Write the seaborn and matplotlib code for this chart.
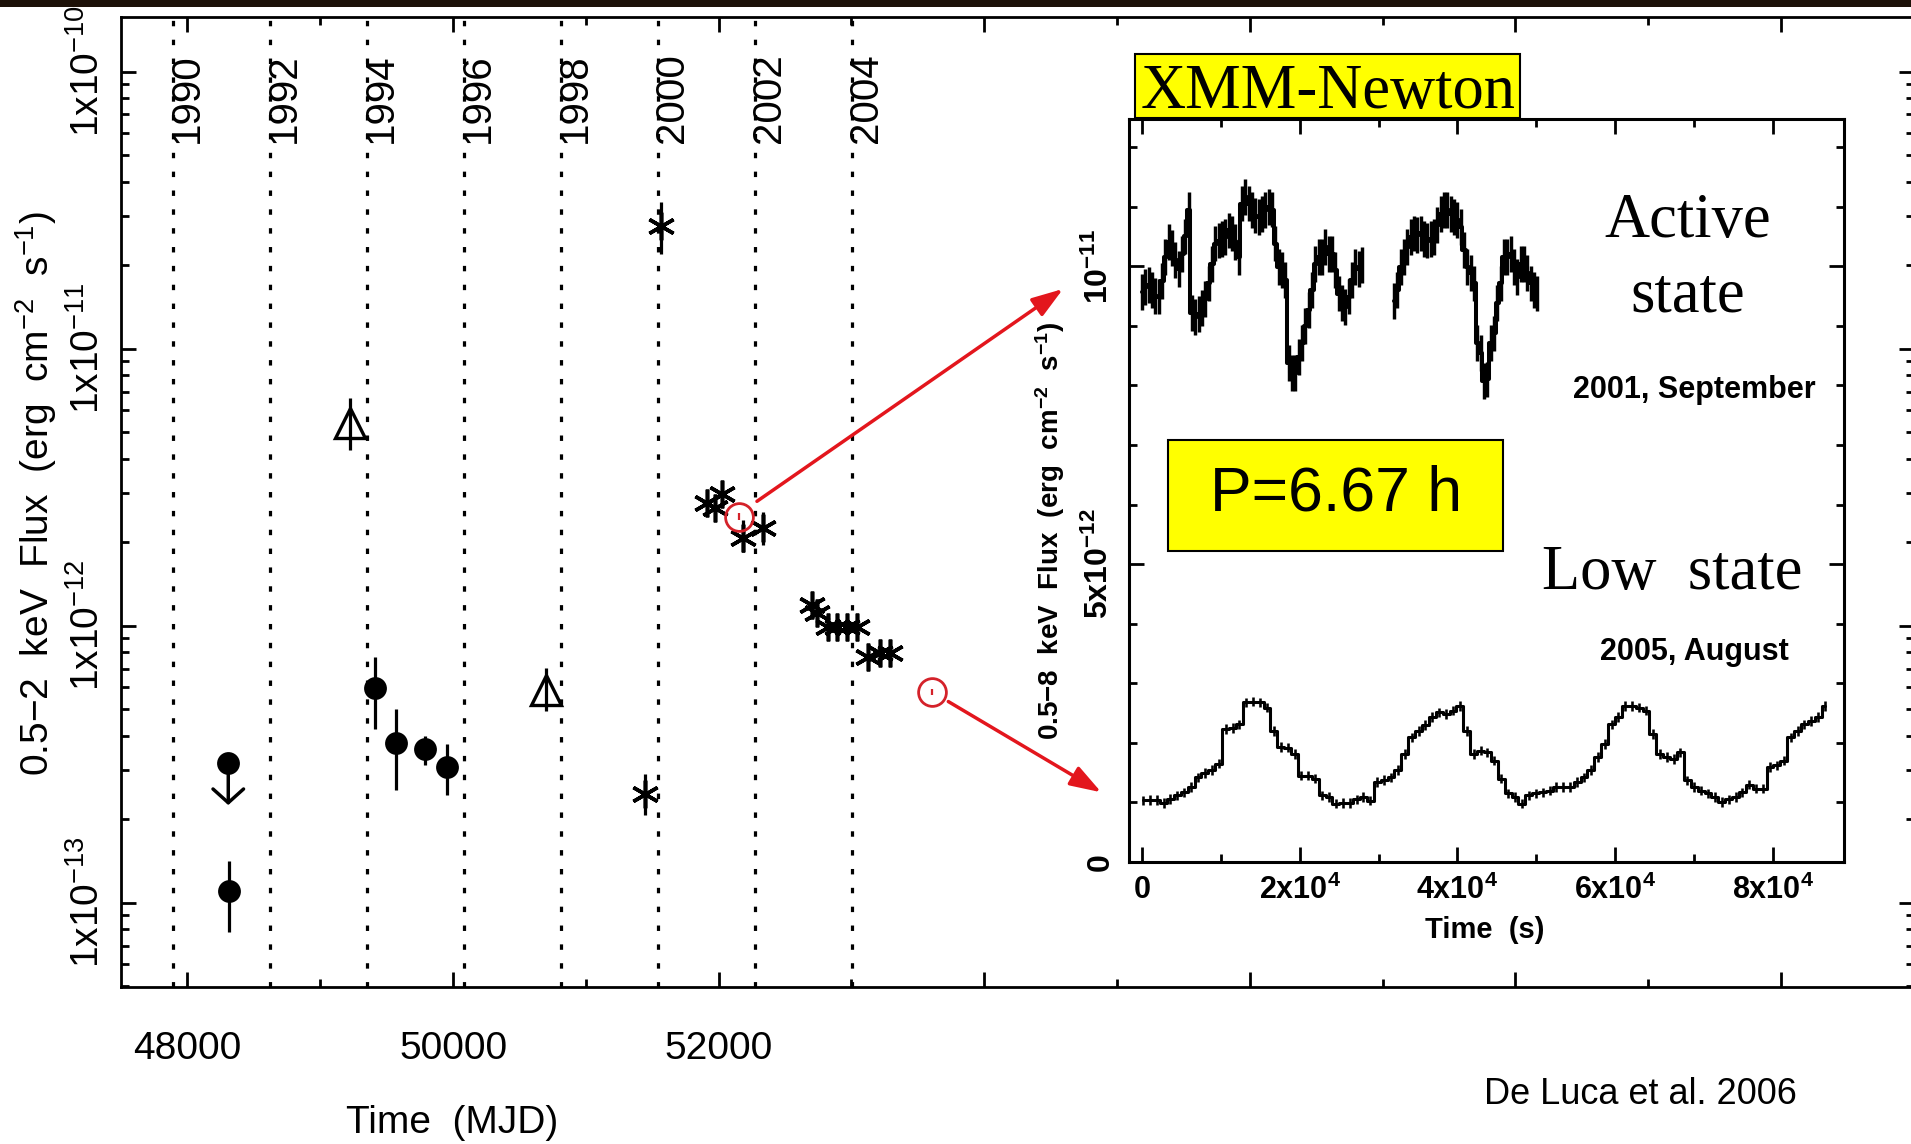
import numpy as np
import matplotlib
matplotlib.use("Agg")
import matplotlib.pyplot as plt
import matplotlib.ticker as mticker
import matplotlib.transforms as mtransforms
from matplotlib.patches import Rectangle
import seaborn as sns

sns.set_theme(style="ticks")
plt.rcParams["font.family"] = ["Liberation Sans", "DejaVu Sans"]
plt.rcParams["mathtext.default"] = "regular"
plt.rcParams["axes.edgecolor"] = "black"
plt.rcParams["text.color"] = "black"
plt.rcParams["xtick.color"] = "black"
plt.rcParams["ytick.color"] = "black"

# ---------------- data: long-term light curve ----------------
year_labels = ["1990", "1992", "1994", "1996", "1998", "2000", "2002", "2004"]
year_mjd = [47892, 48622, 49353, 50083, 50814, 51544, 52275, 53005]

circ_mjd = [48315, 49412, 49570, 49788, 49952]
circ_flux = [1.10e-13, 5.94e-13, 3.76e-13, 3.58e-13, 3.08e-13]
circ_lo = [7.85e-14, 4.23e-13, 2.54e-13, 3.14e-13, 2.45e-13]
circ_hi = [1.41e-13, 7.69e-13, 4.99e-13, 4.00e-13, 3.73e-13]

ul_mjd = [48307]
ul_flux = [3.19e-13]
ul_tip = [2.25e-13]

tri_mjd = [49227, 50700]
tri_flux = [5.38e-12, 5.86e-13]
tri_lo = [4.31e-12, 4.90e-13]
tri_hi = [6.62e-12, 7.03e-13]

star_mjd = [51446, 51567, 51910, 51972, 52023, 52185, 52336, 52700, 52738,
            52825, 52889, 52964, 53039, 53127, 53215, 53290]
star_flux = [2.46e-13, 2.78e-11, 2.77e-12, 2.65e-12, 2.99e-12, 2.07e-12, 2.25e-12,
             1.19e-12, 1.11e-12, 9.9e-13, 9.9e-13, 9.9e-13, 9.9e-13, 7.73e-13,
             7.94e-13, 7.94e-13]
star_lo = [2.07e-13, 2.19e-11, 2.70e-12, 2.58e-12, 2.92e-12, 1.85e-12, 1.95e-12,
           1.16e-12, 1.08e-12, 9.7e-13, 9.7e-13, 9.7e-13, 9.7e-13, 7.55e-13,
           7.76e-13, 7.76e-13]
star_hi = [2.92e-13, 3.37e-11, 2.84e-12, 2.72e-12, 3.06e-12, 2.41e-12, 2.58e-12,
           1.22e-12, 1.14e-12, 1.01e-12, 1.01e-12, 1.01e-12, 1.01e-12, 7.92e-13,
           8.12e-13, 8.12e-13]

red_mjd = [52155, 53608]
red_flux = [2.47e-12, 5.77e-13]
red_lo = [2.40e-12, 5.62e-13]
red_hi = [2.54e-12, 5.92e-13]

# red arrows (start -> tip) in (MJD, flux)
arrow_start = [(52288, 2.81e-12), (53729, 5.32e-13)]
arrow_tip = [(54593, 1.642e-11), (54881, 2.502e-13)]

xtick_major = [48000, 50000, 52000, 54000, 56000, 58000, 60000]
xtick_labels = ["48000", "50000", "52000", "", "", "", ""]
ytick_vals = [1e-13, 1e-12, 1e-11, 1e-10]
ytick_labels = ["1x10$^{-13}$", "1x10$^{-12}$", "1x10$^{-11}$", "1x10$^{-10}$"]

# ---------------- data: XMM light curves (units of 1e-12) ----------------
active_a = [9.57, 9.65, 9.68, 9.60, 9.50, 9.49, 9.75, 10.15, 10.40, 10.30,
            10.10, 9.95, 10.20, 10.50, 10.94, 9.21, 9.15, 9.20, 9.30, 9.45,
            9.71, 10.04, 10.38, 10.43, 10.45, 10.49, 10.60, 10.55, 10.40, 10.16,
            11.05, 11.16, 11.05, 10.94, 10.85, 10.82, 10.88, 10.94, 10.99, 10.95,
            10.38, 9.99, 9.93, 9.77, 8.37, 8.21, 8.21, 8.48, 8.71, 8.99,
            9.26, 9.60, 10.04, 10.16, 10.16, 10.32, 10.20, 10.21, 9.93, 9.54,
            9.38, 9.32, 9.49, 9.77, 9.99, 9.95, 10.02]
active_b = [9.42, 9.60, 9.99, 10.16, 10.32, 10.49, 10.55, 10.52, 10.55, 10.46,
            10.43, 10.46, 10.49, 10.69, 10.88, 10.94, 10.94, 10.88, 10.82, 10.77,
            10.66, 10.27, 9.99, 9.88, 9.71, 8.71, 8.54, 8.07, 8.10, 8.71,
            8.87, 9.38, 9.71, 10.16, 10.16, 10.21, 9.99, 9.82, 10.04, 10.04,
            9.88, 9.71, 9.60, 9.54]
low_state = [1.035, 1.04, 1.04, 0.99, 1.06, 1.12, 1.17, 1.26, 1.42, 1.49,
             1.54, 1.65, 2.23, 2.25, 2.31, 2.68, 2.69, 2.68, 2.59, 2.20,
             1.93, 1.92, 1.81, 1.45, 1.45, 1.40, 1.12, 1.09, 0.98, 0.99,
             0.99, 1.05, 1.09, 1.03, 1.34, 1.38, 1.42, 1.54, 1.81, 2.09,
             2.20, 2.30, 2.43, 2.51, 2.48, 2.54, 2.62, 2.20, 1.81, 1.87,
             1.84, 1.70, 1.40, 1.15, 1.09, 0.98, 1.12, 1.15, 1.17, 1.20,
             1.26, 1.26, 1.26, 1.34, 1.42, 1.54, 1.76, 1.98, 2.31, 2.43,
             2.62, 2.62, 2.59, 2.54, 2.15, 1.81, 1.76, 1.73, 1.84, 1.37,
             1.26, 1.20, 1.15, 1.09, 1.01, 1.05, 1.09, 1.17, 1.30, 1.23,
             1.23, 1.59, 1.62, 1.70, 2.09, 2.20, 2.31, 2.37, 2.43, 2.62]
active_bin, active_b_start = 423.0, 31940.0
low_bin, low_start = 874.0, 117.0
active_err, low_err = 0.30, 0.08

inset_xticks = [0, 20000, 40000, 60000, 80000]
inset_xlabels = ["0", "2x10$^4$", "4x10$^4$", "6x10$^4$", "8x10$^4$"]
inset_yticks = [0, 5, 10]
inset_ylabels = ["0", "5x10$^{-12}$", "10$^{-11}$"]

# ---------------- figure ----------------
W, H = 1911, 1144
fig = plt.figure(figsize=(W / 100, H / 100), dpi=100)
fig.patch.set_facecolor("white")


def fx(x):
    return x / W


def fy(y):
    return 1 - y / H


L, R, T, B = 121.1, 1913.9, 17.3, 987.0
ax = fig.add_axes([fx(L), fy(B), (R - L) / W, (B - T) / H])
ax.set_yscale("log")
ax.set_xlim(47500, 61000)
ax.set_ylim(4.96e-14, 1.57e-10)
for s in ax.spines.values():
    s.set_linewidth(2.0)
    s.set_color("black")

ax.set_xticks(xtick_major, labels=xtick_labels)
ax.xaxis.set_minor_locator(mticker.MultipleLocator(1000))
ax.set_yticks(ytick_vals, labels=ytick_labels)
ax.yaxis.set_minor_locator(mticker.LogLocator(base=10, subs=np.arange(2, 10), numticks=30))
ax.yaxis.set_minor_formatter(mticker.NullFormatter())
ax.tick_params(which="both", direction="in", top=True, right=True, width=2.0, color="black")
ax.tick_params(which="major", length=11)
ax.tick_params(which="minor", length=6)
ax.tick_params(axis="x", labelsize=28, pad=32)
ax.tick_params(axis="y", labelsize=28, pad=10, labelrotation=90)
for lab in ax.get_yticklabels():
    lab.set_va("center")
ax.grid(False)

# year lines & labels
blend = mtransforms.blended_transform_factory(ax.transData, ax.transAxes)
ytxt = mtransforms.offset_copy(blend, fig=fig, x=14 * 0.72, y=0, units="points")
for yl, m in zip(year_labels, year_mjd):
    ax.axvline(m, color="black", lw=2.3, ls=(0, (1.7, 4.2)), zorder=1)
    ax.text(m, 0.9163, yl, transform=ytxt, rotation=90, ha="center", va="center",
            fontsize=29, zorder=3)

# data points
err_kw = dict(fmt="none", ecolor="black", elinewidth=2.3, capsize=0, zorder=3)
ax.errorbar(circ_mjd, circ_flux,
            yerr=[np.subtract(circ_flux, circ_lo), np.subtract(circ_hi, circ_flux)], **err_kw)
sns.scatterplot(x=circ_mjd + ul_mjd, y=circ_flux + ul_flux, ax=ax, color="black",
                s=270, marker="o", edgecolor="black", linewidth=0, zorder=4, legend=False)
for m, f, tip in zip(ul_mjd, ul_flux, ul_tip):
    ax.annotate("", xy=(m, tip), xytext=(m, f),
                arrowprops=dict(arrowstyle="->,head_length=0.45,head_width=0.5",
                                lw=2.5, color="black", mutation_scale=22,
                                shrinkA=0, shrinkB=0), zorder=3)

ax.errorbar(tri_mjd, tri_flux,
            yerr=[np.subtract(tri_flux, tri_lo), np.subtract(tri_hi, tri_flux)],
            fmt="^", mfc="none", mec="black", ms=21, mew=2.4,
            ecolor="black", elinewidth=2.3, capsize=0, zorder=3)

ax.errorbar(star_mjd, star_flux,
            yerr=[np.subtract(star_flux, star_lo), np.subtract(star_hi, star_flux)], **err_kw)
ax.plot(star_mjd, star_flux, ls="none", marker=(6, 2, 0), ms=20, mew=2.6,
        color="black", zorder=4)

red = "#d4222a"
ax.errorbar(red_mjd, red_flux,
            yerr=[np.subtract(red_flux, red_lo), np.subtract(red_hi, red_flux)],
            fmt="o", mfc="none", mec=red, ms=20, mew=2.0,
            ecolor=red, elinewidth=1.6, capsize=0, zorder=5)
for (x0, y0), (x1, y1) in zip(arrow_start, arrow_tip):
    ax.annotate("", xy=(x1, y1), xytext=(x0, y0),
                arrowprops=dict(arrowstyle="-|>,head_length=0.95,head_width=0.32",
                                lw=2.5, color="#e3161d", mutation_scale=20,
                                shrinkA=0, shrinkB=0), zorder=5)

# axis labels (main)
fig.text(fx(36), fy(494), "0.5\u22122  keV  Flux  (erg  cm$^{-2}$  s$^{-1}$)",
         rotation=90, ha="center", va="center", fontsize=28)
fig.text(fx(452), fy(1123), "Time  (MJD)", ha="center", va="center", fontsize=28)

# ---------------- inset ----------------
iL, iR, iT, iB = 1129.3, 1843.5, 119.0, 862.0
ax2 = fig.add_axes([fx(iL), fy(iB), (iR - iL) / W, (iB - iT) / H], zorder=3)
ax2.set_facecolor("white")
t_a = np.arange(len(active_a)) * active_bin
t_b = active_b_start + np.arange(len(active_b)) * active_bin
t_l = low_start + np.arange(len(low_state)) * low_bin
for t, v, e, lw in [(t_a, active_a, active_err, 2.9), (t_b, active_b, active_err, 2.9),
                    (t_l, low_state, low_err, 2.2)]:
    sns.lineplot(x=t, y=v, ax=ax2, color="black", lw=lw, drawstyle="steps-mid",
                 estimator=None, sort=False)
    ax2.errorbar(t, v, yerr=e, fmt="none", ecolor="black", elinewidth=lw * 0.85, capsize=0)

ax2.set_xlim(-1610, 88970)
ax2.set_ylim(0, 12.47)
ax2.set_xlabel("")
ax2.set_ylabel("")
for s in ax2.spines.values():
    s.set_linewidth(2.2)
    s.set_color("black")
ax2.set_xticks(inset_xticks, labels=inset_xlabels)
ax2.xaxis.set_minor_locator(mticker.MultipleLocator(10000))
ax2.set_yticks(inset_yticks, labels=inset_ylabels)
ax2.yaxis.set_minor_locator(mticker.MultipleLocator(1))
ax2.tick_params(which="both", direction="in", top=True, right=True, width=2.0, color="black")
ax2.tick_params(which="major", length=11)
ax2.tick_params(which="minor", length=5.5)
ax2.tick_params(axis="x", labelsize=22, pad=9)
ax2.tick_params(axis="y", labelsize=23, pad=10, labelrotation=90)
for lab in ax2.get_xticklabels() + ax2.get_yticklabels():
    lab.set_fontweight("bold")
for lab in ax2.get_yticklabels():
    lab.set_va("center")
ax2.grid(False)


def ix(x):
    return (x - iL) / (iR - iL)


def iy(y):
    return (iB - y) / (iB - iT)


serif = ["Liberation Serif", "DejaVu Serif"]
tA = ax2.transAxes
ax2.text(ix(1688), iy(237), "Active", family=serif, fontsize=45, ha="center",
         va="baseline", transform=tA)
ax2.text(ix(1688), iy(312), "state", family=serif, fontsize=45, ha="center",
         va="baseline", transform=tA)
ax2.text(ix(1694), iy(398), "2001, September", fontsize=22, fontweight="bold",
         ha="center", va="baseline", transform=tA)
ax2.text(ix(1672), iy(589), "Low  state", family=serif, fontsize=45, ha="center",
         va="baseline", transform=tA)
ax2.text(ix(1694), iy(660), "2005, August", fontsize=22, fontweight="bold",
         ha="center", va="baseline", transform=tA)

ax2.add_patch(Rectangle((ix(1167.5), iy(551)), ix(1503) - ix(1167.5), iy(440) - iy(551),
                        transform=tA, facecolor="#ffff00", edgecolor="black",
                        lw=1.5, zorder=6))
ax2.text(ix(1335.5), iy(494), "P=6.67 h", fontsize=45, ha="center", va="center",
         zorder=7, transform=tA)

fig.text(fx(1050), fy(531), "0.5\u22128  keV  Flux  (erg  cm$^{-2}$  s$^{-1}$)",
         rotation=90, ha="center", va="center", fontsize=20, fontweight="bold")
fig.text(fx(1485), fy(930), "Time  (s)", ha="center", va="center", fontsize=21,
         fontweight="bold")

# XMM-Newton label box
fig.add_artist(Rectangle((fx(1135), fy(118)), (1520 - 1135) / W, (118 - 54) / H,
                         transform=fig.transFigure, facecolor="#ffff00",
                         edgecolor="black", lw=1.5, zorder=10))
fig.text(fx(1328), fy(108), "XMM-Newton", family=serif, fontsize=45, ha="center",
         va="baseline", zorder=11)

fig.text(fx(1640), fy(1095), "De Luca et al. 2006", fontsize=26, ha="center", va="center")

# dark top band
fig.add_artist(Rectangle((0, fy(7)), 1, 7 / H, transform=fig.transFigure,
                         facecolor="#1d1108", edgecolor="none", zorder=20))

fig.savefig("out.png", dpi=100)
